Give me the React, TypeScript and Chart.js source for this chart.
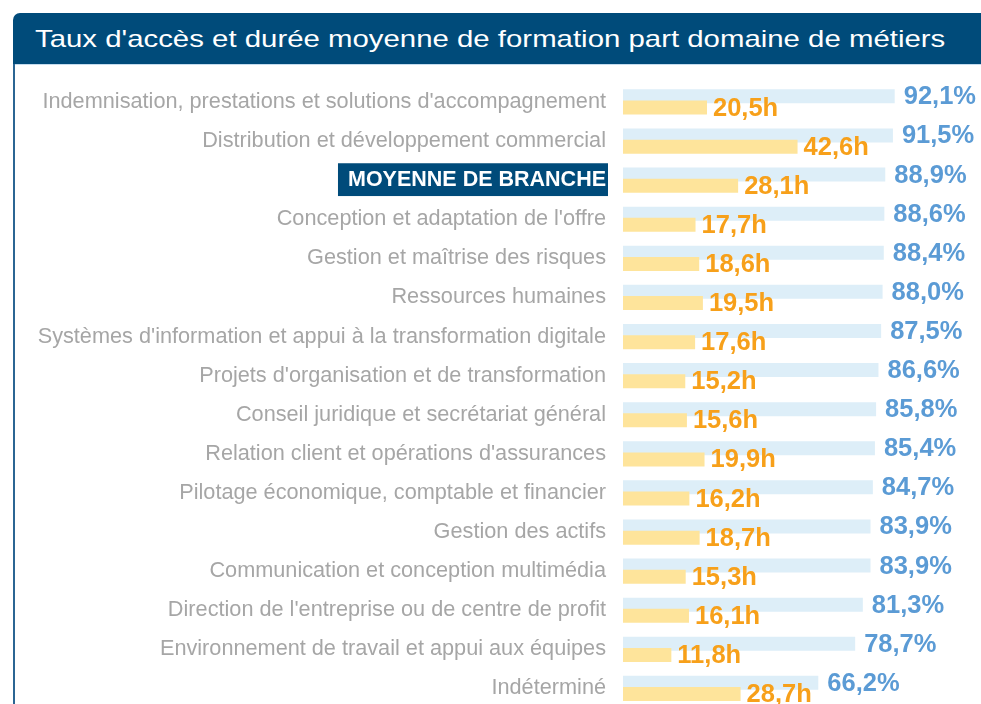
import React, { useEffect, useRef } from 'react';
import { Chart, registerables } from 'chart.js';

Chart.register(...registerables);

const title = "Taux d'accès et durée moyenne de formation part domaine de métiers";

const categories = [
  "Indemnisation, prestations et solutions d'accompagnement",
  'Distribution et développement commercial',
  'MOYENNE DE BRANCHE',
  "Conception et adaptation de l'offre",
  'Gestion et maîtrise des risques',
  'Ressources humaines',
  "Systèmes d'information et appui à la transformation digitale",
  "Projets d'organisation et de transformation",
  'Conseil juridique et secrétariat général',
  "Relation client et opérations d'assurances",
  'Pilotage économique, comptable et financier',
  'Gestion des actifs',
  'Communication et conception multimédia',
  "Direction de l'entreprise ou de centre de profit",
  'Environnement de travail et appui aux équipes',
  'Indéterminé',
];

const accessRates = [92.1, 91.5, 88.9, 88.6, 88.4, 88.0, 87.5, 86.6, 85.8, 85.4, 84.7, 83.9, 83.9, 81.3, 78.7, 66.2];
const trainingHours = [20.5, 42.6, 28.1, 17.7, 18.6, 19.5, 17.6, 15.2, 15.6, 19.9, 16.2, 18.7, 15.3, 16.1, 11.8, 28.7];

const highlightIndex = 2;

const FONT = '"Liberation Sans", Arial, Helvetica, sans-serif';
const HEADER_BLUE = '#004b7a';
const BLUE_BAR = '#ddeef8';
const YELLOW_BAR = '#fee49b';
const BLUE_TEXT = '#5b9bd5';
const ORANGE_TEXT = '#f7a01a';
const GRAY_TEXT = '#a6a6a6';

const fmt = (v: number) => v.toFixed(1).replace('.', ',');

export default function App() {
  const ref = useRef<HTMLCanvasElement>(null);

  useEffect(() => {
    if (!ref.current) return;

    // draw the hours bars above the access-rate bars
    const layerPlugin = {
      id: 'yellowOnTop',
      beforeDatasetDraw(_chart: any, args: any) {
        if (args.index === 1) return false;
        return true;
      },
      afterDatasetsDraw(chart: any) {
        chart.getDatasetMeta(1).controller.draw();
      },
    };

    const valueLabels = {
      id: 'valueLabels',
      afterDatasetsDraw(chart: any) {
        const ctx = chart.ctx;
        ctx.save();
        ctx.textBaseline = 'middle';
        ctx.textAlign = 'left';
        ctx.font = `bold 25.5px ${FONT}`;
        ctx.fillStyle = BLUE_TEXT;
        chart.getDatasetMeta(0).data.forEach((el: any, i: number) => {
          ctx.fillText(fmt(accessRates[i]) + '%', el.x + 9, el.y + 1);
        });
        ctx.fillStyle = ORANGE_TEXT;
        chart.getDatasetMeta(1).data.forEach((el: any, i: number) => {
          ctx.fillText(fmt(trainingHours[i]) + 'h', el.x + 6, el.y + 1);
        });
        ctx.restore();
      },
    };

    const chart = new Chart(ref.current, {
      type: 'bar',
      data: {
        labels: categories,
        datasets: [
          {
            label: "Taux d'accès",
            data: accessRates,
            xAxisID: 'x',
            backgroundColor: BLUE_BAR,
            borderWidth: 0,
            categoryPercentage: 0.573,
            barPercentage: 1.25,
          },
          {
            label: 'Durée moyenne',
            data: trainingHours,
            xAxisID: 'x2',
            backgroundColor: YELLOW_BAR,
            borderWidth: 0,
            categoryPercentage: 0.573,
            barPercentage: 1.25,
          },
        ],
      },
      options: {
        indexAxis: 'y',
        responsive: false,
        animation: false,
        layout: { padding: { left: 0, right: 63, top: 18.4, bottom: 6 } },
        plugins: {
          legend: { display: false },
          tooltip: { enabled: false },
        },
        scales: {
          x: { type: 'linear', min: 0, max: 100, display: false },
          x2: { type: 'linear', min: 0, max: 72, display: false },
          y: {
            grid: { display: false, drawTicks: false },
            border: { display: false },
            ticks: {
              autoSkip: false,
              padding: 17,
              color: (c: any) => (c.index === highlightIndex ? '#ffffff' : GRAY_TEXT),
              font: (c: any) =>
                c.index === highlightIndex
                  ? { family: FONT, size: 21.5, weight: 'bold' }
                  : { family: FONT, size: 21.7 },
              showLabelBackdrop: (c: any) => c.index === highlightIndex,
              backdropColor: HEADER_BLUE,
              backdropPadding: { top: 4, bottom: 3, left: 10, right: 2 },
            },
            afterFit(scale: any) {
              scale.width = 623;
              scale.paddingTop = 0;
              scale.paddingBottom = 0;
            },
          },
        },
      },
      plugins: [layerPlugin, valueLabels],
    } as any);

    return () => chart.destroy();
  }, []);

  return (
    <div
      style={{
        position: 'fixed',
        left: 0,
        top: 0,
        width: 981,
        height: 704,
        overflow: 'hidden',
        background: '#ffffff',
      }}
    >
      <div
        style={{
          position: 'absolute',
          left: 13,
          top: 13,
          width: 1000,
          height: 51,
          background: HEADER_BLUE,
          borderTopLeftRadius: 7,
        }}
      >
        <div
          style={{
            position: 'absolute',
            left: 22,
            top: 0,
            height: 51,
            lineHeight: '51px',
            color: '#ffffff',
            fontFamily: FONT,
            fontSize: 24,
            whiteSpace: 'nowrap',
            transform: 'scaleX(1.224)',
            transformOrigin: 'left center',
          }}
        >
          {title}
        </div>
      </div>
      <div style={{ position: 'absolute', left: 13, top: 64, width: 1000, height: 1, background: '#c5dcee' }} />
      <div style={{ position: 'absolute', left: 13, top: 64, width: 2, height: 640, background: '#2b6593' }} />
      <canvas
        ref={ref}
        width={981}
        height={650}
        style={{ position: 'absolute', left: 0, top: 64, width: 981, height: 650 }}
      />
    </div>
  );
}
